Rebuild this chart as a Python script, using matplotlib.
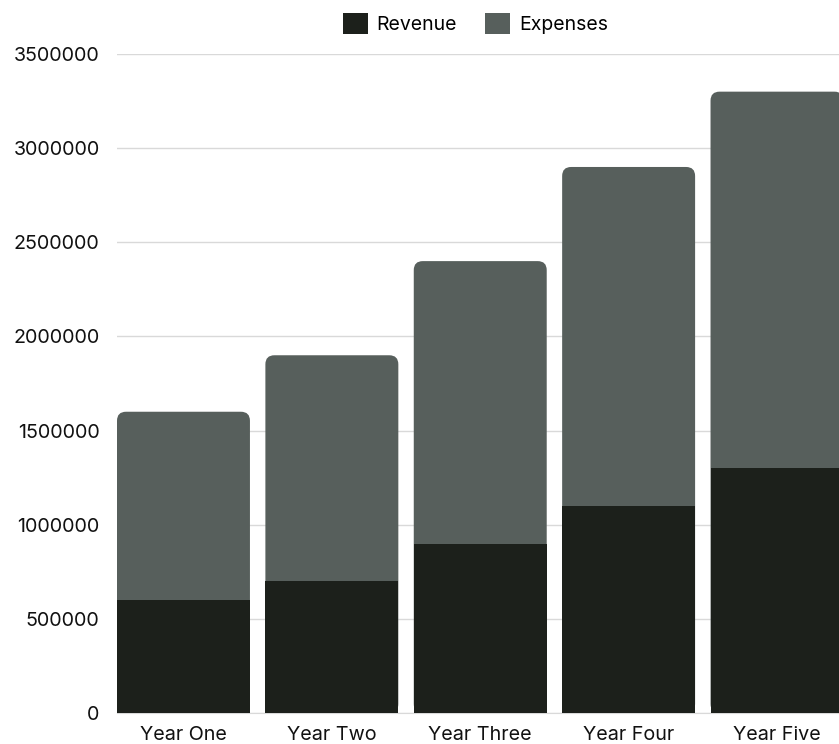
import matplotlib
matplotlib.use("Agg")
import matplotlib.pyplot as plt
from matplotlib.patches import FancyBboxPatch, Patch
import numpy as np

categories = ["Year One", "Year Two", "Year Three", "Year Four", "Year Five"]
revenue = [600000, 700000, 900000, 1100000, 1300000]
expenses = [1000000, 1200000, 1500000, 1800000, 2000000]
yticks = [0, 500000, 1000000, 1500000, 2000000, 2500000, 3000000, 3500000]

c_rev = "#1c201b"
c_exp = "#575f5c"

plt.rcParams['font.family'] = ['Inter', 'DejaVu Sans']

W, H = 839, 744
fig = plt.figure(figsize=(W / 100, H / 100), dpi=100)
ax_l, ax_r = 117, 839
ax_t, ax_b = 54, 713
ax = fig.add_axes([ax_l / W, (H - ax_b) / H, (ax_r - ax_l) / W, (ax_b - ax_t) / H])

x = np.arange(len(categories))
bw = 0.896
xmin, xmax = -bw / 2, 4 + (839 - 777) / 148.4
ymax = 3500000
ax.set_xlim(xmin, xmax)
ax.set_ylim(0, ymax)

totals = [r + e for r, e in zip(revenue, expenses)]
dx = (xmax - xmin) / (ax_r - ax_l)
dy = ymax / (ax_b - ax_t)
rad_px = 9
for xi, t in zip(x, totals):
    p = FancyBboxPatch((xi - bw / 2, 0), bw, t,
                       boxstyle=f"round,pad=0,rounding_size={rad_px * dx}",
                       mutation_aspect=dy / dx,
                       facecolor=c_exp, edgecolor="none", zorder=2)
    ax.add_patch(p)
ax.bar(x, revenue, width=bw, color=c_rev, zorder=3)

ax.set_yticks(yticks)
ax.set_yticklabels([str(v) for v in yticks])
ax.set_xticks(x)
ax.set_xticklabels(categories)
ax.grid(axis='y', color="#d9d9d9", linewidth=1, zorder=0)
ax.set_axisbelow(True)
for s in ["top", "right", "left"]:
    ax.spines[s].set_visible(False)
ax.spines["bottom"].set_color("#d9d9d9")
ax.tick_params(axis='both', length=0, labelsize=14.2, colors="#111111")
ax.tick_params(axis='y', pad=12.5)
ax.tick_params(axis='x', pad=9)

handles = [Patch(facecolor=c_rev, label="Revenue"), Patch(facecolor=c_exp, label="Expenses")]
ax.legend(handles=handles, loc="center", bbox_to_anchor=((475.5 - ax_l) / (ax_r - ax_l), (H - 23.5 - (H - ax_b)) / (ax_b - ax_t)),
          ncol=2, frameon=False, fontsize=14, handlelength=1.29, handleheight=1.24,
          handletextpad=0.46, columnspacing=1.44, borderpad=0)

fig.savefig("out.png", dpi=100)
